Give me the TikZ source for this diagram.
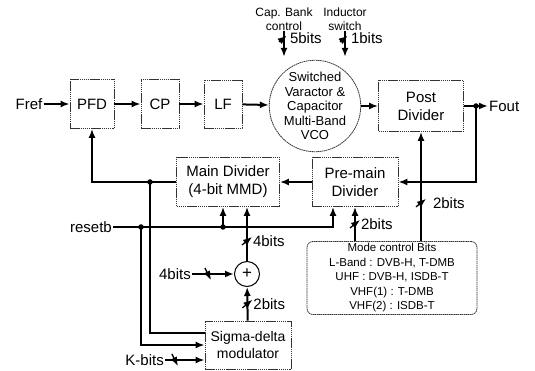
\documentclass[tikz,border=0pt]{standalone}
\usepackage{fontspec}
\setmainfont{Liberation Sans}
\usetikzlibrary{positioning,arrows.meta}

\begin{document}
\begin{tikzpicture}[x=1pt, y=-1pt,
      blk/.style={draw=black!80, line width=0.8pt, dash pattern=on 1.5pt off 0.6pt,
                  align=center, inner sep=1pt, font=\fontsize{15}{18}\selectfont},
      lbl/.style={font=\fontsize{15}{18}\selectfont, inner sep=1pt},
      note/.style={font=\fontsize{12}{14}\selectfont, align=center, inner sep=0pt},
      wire/.style={line width=2pt},
      jdot/.style={circle, fill, inner sep=0pt, minimum size=5.5pt},
      busv/.pic={\draw[line width=1.3pt] (-5,4) -- (5,-4);},
      bush/.pic={\draw[line width=1.3pt] (-3,-6) -- (3,6);},
      >={Latex[length=9pt,width=7pt]}]
    \useasboundingbox (0,0) rectangle (535,371);
    % forward path
    \node[lbl] (fref) at (29,104) {Fref};
    \node[blk, minimum width=44pt, minimum height=49pt] (pfd) at (92,104) {PFD};
    \node[blk, minimum width=38pt, minimum height=49pt] (cp) at (160,104) {CP};
    \node[blk, minimum width=38pt, minimum height=48pt] (lf) at (223,104) {LF};
    \node[blk, circle, minimum size=90pt, inner sep=0pt,
          font=\fontsize{13}{14.5}\selectfont] (vco) at (315,106)
          {Switched\\Varactor \&\\Capacitor\\Multi-Band\\VCO};
    \node[blk, minimum width=85pt, minimum height=51pt] (post) at (421,106) {Post\\Divider};
    \node[lbl, anchor=west] (fout) at (488,106) {Fout};
    \node[note] (capctl) at (284,19) {Cap. Bank\\control};
    \node[note] (indsw) at (345,19) {Inductor\\switch};
    % feedback path
    \node[blk, minimum width=103pt, minimum height=49pt] (main) at (228,182) {Main Divider\\(4-bit MMD)};
    \node[blk, minimum width=86pt, minimum height=49pt] (pre) at (355,182) {Pre-main\\Divider};
    \node[blk, rounded corners=6pt, minimum width=170pt, minimum height=73pt,
          inner sep=0pt, font=\fontsize{11.5}{14.5}\selectfont] (mode) at (392,278)
          {Mode control Bits\\L-Band : DVB-H, T-DMB\\UHF : DVB-H, ISDB-T\\VHF(1) : T-DMB\\VHF(2) : ISDB-T};
    \node[circle, draw, line width=1pt, minimum size=25pt, inner sep=0pt,
          font=\fontsize{17}{17}\selectfont] (add) at (247,274) {+};
    \node[blk, minimum width=86pt, minimum height=48pt, font=\fontsize{14}{17}\selectfont] (sd) at (248,345)
          {Sigma-delta\\modulator};
    \node[lbl, anchor=east] (resetb) at (113,227) {resetb};
    \node[lbl, anchor=east] (inbits) at (192,274) {4bits};
    \node[lbl, anchor=east] (kbits) at (165,360) {K-bits};
    \coordinate (jo) at (476,106);
    \coordinate (jm) at (150,182);
    \coordinate (jr) at (141,227);
    \coordinate (jr2) at (223,227);

    \draw[wire, ->] (fref) -- (pfd);
    \draw[wire, ->] (pfd) -- (cp);
    \draw[wire, ->] (cp) -- (lf);
    \draw[wire, ->] (lf) -- (vco);
    \draw[wire, ->] (vco) -- (post);
    \draw[wire, ->] (post) -- (fout);
    \draw[wire, ->, shorten >=3pt] (capctl) -- pic[pos=.25]{busv}
      node[pos=.25, lbl, right=4pt] {5bits} (capctl |- vco.north);
    \draw[wire, ->, shorten >=3pt] (indsw) -- pic[pos=.25]{busv}
      node[pos=.25, lbl, right=4pt] {1bits} (indsw |- vco.north);
    \draw[wire, ->] (jo) |- (pre);
    \draw[wire, ->] (pre) -- (main);
    \draw[wire, ->] (main) -| (pfd);
    \draw[wire] (jm) |- ([yshift=12pt]sd.west);
    \draw[wire, ->] (resetb) -| ([xshift=-22pt]pre.south);
    \draw[wire, ->] (jr) |- (sd.west);
    \draw[wire, ->] (jr2) -- (jr2 |- main.south);
    \draw[wire, ->] (add) -- pic[pos=.37]{busv}
      node[pos=.37, lbl, right=4pt] {4bits} (add |- main.south);
    \draw[wire, ->] (sd) -- pic[pos=.5]{busv}
      node[pos=.5, lbl, right=4pt] {2bits} (add);
    \draw[wire, ->] (inbits) -- pic[pos=.38]{bush} (add);
    \draw[wire, ->] (kbits) -- pic[pos=.25]{bush} ([yshift=-15pt]sd.west);
    \draw[wire, ->] (mode.north -| pre.south) -- pic[pos=.5]{busv}
      node[pos=.5, lbl, right=4pt] {2bits} (pre.south);
    \draw[wire, ->] (mode.north -| post.south) -- pic[pos=.35]{busv}
      node[pos=.35, lbl, right=10pt] {2bits} (post.south);
    \foreach \j in {jo, jm, jr, jr2}
      \node[jdot] at (\j) {};
  \end{tikzpicture}
\end{document}
